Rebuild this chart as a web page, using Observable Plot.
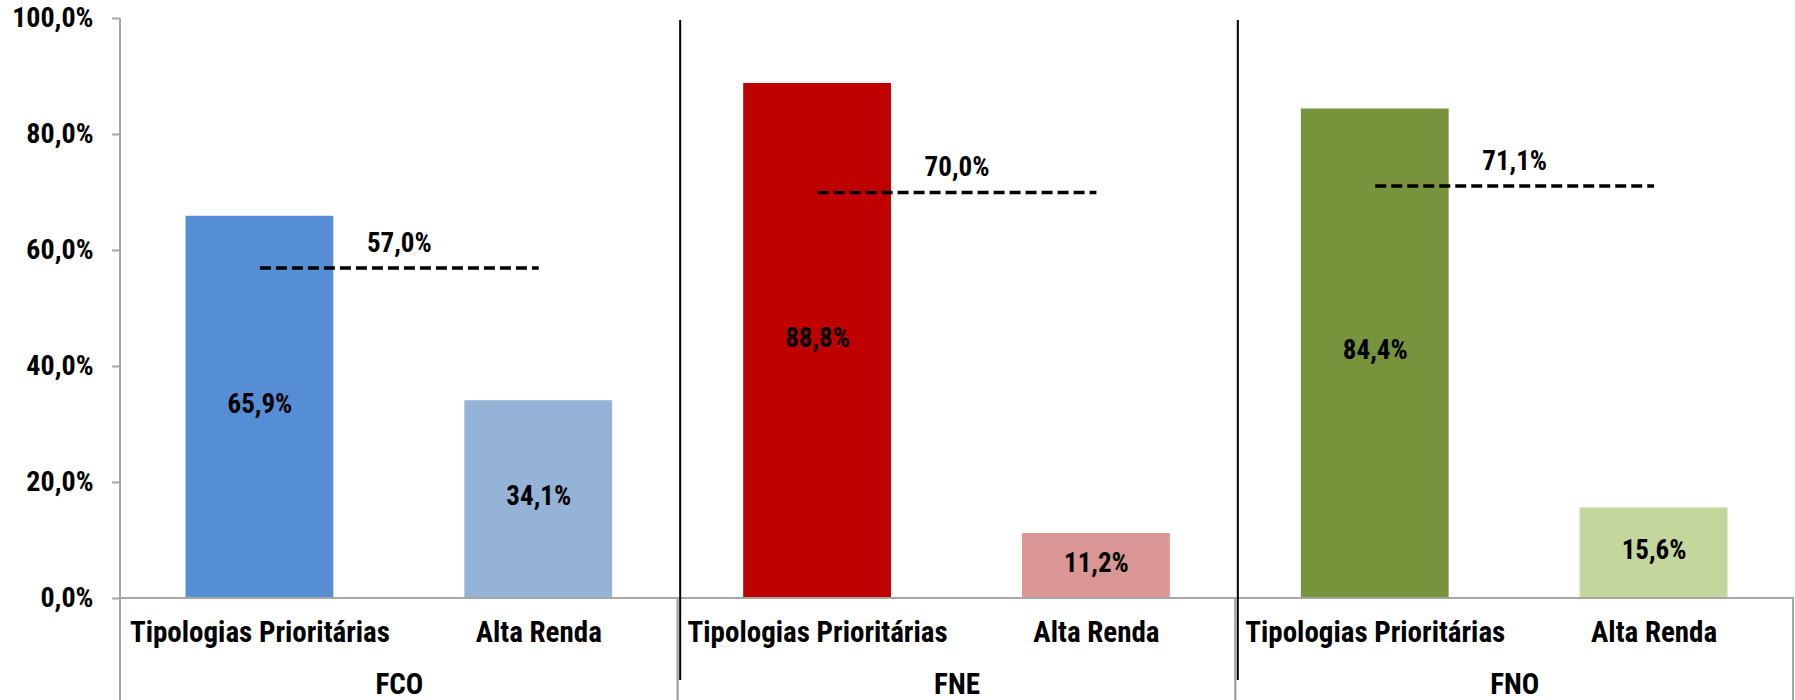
<!DOCTYPE html>
<html>
<head>
<meta charset="utf-8">
<script src="https://cdn.jsdelivr.net/npm/d3@7"></script>
<script src="https://cdn.jsdelivr.net/npm/@observablehq/plot@0.6"></script>
<style>
  html, body { margin: 0; padding: 0; background: #fff; overflow: hidden; }
  #chart svg { display: block; }
</style>
</head>
<body>
<div id="chart"></div>
<script>
// ---- data ----
const funds = ["FCO", "FNE", "FNO"];
const categories = ["Tipologias Prioritárias", "Alta Renda"];
const tipologias = [65.9, 88.8, 84.4];
const altaRenda = [34.1, 11.2, 15.6];
const media = [57.0, 70.0, 71.1];
const yTicks = [0, 20, 40, 60, 80, 100];

// ---- styles ----
const barColors = {
  FCO: ["#558ED5", "#95B3D7"],
  FNE: ["#C00000", "#D99694"],
  FNO: ["#77933C", "#C3D69B"]
};
const narrow = "'Liberation Sans Narrow', 'Arial Narrow', 'Roboto Condensed', 'Open Sans', sans-serif";
const gray = "#a6a6a6";

const bars = funds.flatMap((f, i) => [
  {fund: f, cat: categories[0], value: tipologias[i], ci: 0},
  {fund: f, cat: categories[1], value: altaRenda[i], ci: 1}
]);
const avgs = funds.map((f, i) => ({fund: f, avg: media[i]}));

const fmt = v => v.toFixed(1).replace(".", ",") + "%";

let facetCount = 0;
const frameLines = (index, scales, values, dims) => {
  const k = facetCount++;
  const {width, height, marginLeft, marginRight, marginTop} = dims;
  const x0 = marginLeft, x1 = width - marginRight;
  const y0 = scales.y(0);
  const g = d3.create("svg:g");
  g.append("path")
    .attr("d", `M${x0},${height + 5}V${y0}H${x1}V${height + 5}`)
    .attr("fill", "none").attr("stroke", gray).attr("stroke-width", 2);
  if (k === 0) {
    g.append("line").attr("x1", x0).attr("x2", x0).attr("y1", marginTop).attr("y2", y0)
      .attr("stroke", gray).attr("stroke-width", 2);
  } else {
    g.append("line").attr("x1", x0 + 2.5).attr("x2", x0 + 2.5)
      .attr("y1", marginTop + 2).attr("y2", height - 20)
      .attr("stroke", "#000").attr("stroke-width", 2);
  }
  return g.node();
};

const chart = Plot.plot({
  width: 1795,
  height: 700,
  marginLeft: 120,
  marginRight: 2,
  marginTop: 18,
  marginBottom: 102,
  style: {background: "#fff"},
  fx: {domain: funds, padding: 0, round: false, label: null},
  x: {domain: categories, paddingInner: 0.47, paddingOuter: 0.235, round: false, label: null},
  y: {domain: [0, 100], label: null},
  marks: [
    Plot.barY(bars, {fx: "fund", x: "cat", y: "value", fill: d => barColors[d.fund][d.ci]}),
    Plot.text(bars, {
      fx: "fund", x: "cat", y: d => d.value / 2, dy: -3, text: d => fmt(d.value),
      fontSize: 27, fontWeight: "bold", fontFamily: narrow, fill: "#000"
    }),
    Plot.link(avgs, {
      fx: "fund", x1: () => categories[0], x2: () => categories[1], y1: "avg", y2: "avg",
      stroke: "#000", strokeWidth: 3.5, strokeDasharray: "11,5"
    }),
    Plot.text(avgs, {
      fx: "fund", y: "avg", dy: -25, text: d => fmt(d.avg),
      fontSize: 27, fontWeight: "bold", fontFamily: narrow, fill: "#000"
    }),
    frameLines,
    Plot.axisY({
      ticks: yTicks, tickFormat: fmt, tickSize: 8, tickPadding: 19,
      stroke: gray, strokeWidth: 2, fill: "#000",
      fontSize: 28, fontWeight: "bold", fontFamily: narrow, label: null
    }),
    Plot.axisX({
      anchor: "bottom", tickSize: 0, tickPadding: 23, label: null,
      fontSize: 29, fontWeight: "bold", fontFamily: narrow, fill: "#000"
    }),
    Plot.axisFx({
      anchor: "bottom", tickSize: 0, tickPadding: 75, label: null,
      fontSize: 29, fontWeight: "bold", fontFamily: narrow, fill: "#000"
    })
  ]
});
document.getElementById("chart").appendChild(chart);
</script>
</body>
</html>
